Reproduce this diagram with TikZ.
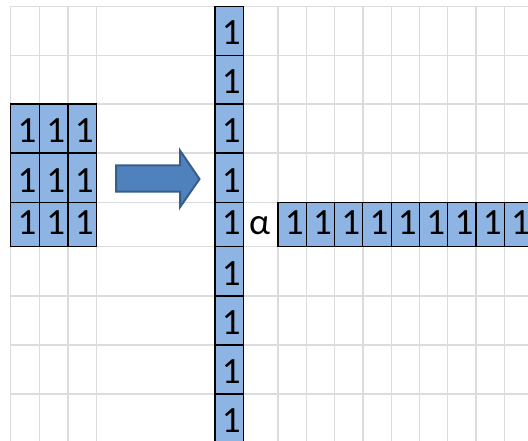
\documentclass[tikz,border=0pt]{standalone}
\usepackage{fontspec}
\setmainfont{Carlito}
\definecolor{gridc}{RGB}{218,220,221}
\definecolor{cellblue}{RGB}{141,180,226}
\definecolor{arrowfill}{RGB}{79,129,189}
\definecolor{arrowedge}{RGB}{56,93,138}
\begin{document}
\begin{tikzpicture}[x=1pt,y=-1pt,
  gridline/.style={draw=gridc,line width=1.3pt},
  cellbase/.style={draw=black,line width=1.2pt,fill=cellblue,inner sep=0pt,
    minimum width=28.4pt,font=\fontsize{37}{37}\selectfont},
  cell/.style={cellbase,minimum height=49pt,text height=28.4pt,text depth=0pt},
  cellshort/.style={cellbase,minimum height=44pt,text height=23.4pt,text depth=4pt},
  alphalabel/.style={inner sep=0pt,font=\fontsize{37}{37}\selectfont,text height=23.4pt,text depth=4pt},
  blockarrow/.style={fill=arrowfill,draw=arrowedge,line width=2pt,line join=miter}
]
\useasboundingbox (0,0) rectangle (528,441);
\clip (0,0) rectangle (528,441);
% grid
\foreach \gx in {10.7,39.3,68,96.3,215,243.3,278,306.3,334.6,362.9,391.2,419.5,447.8,476.1,504.4}
  \draw[gridline] (\gx,6.3) -- (\gx,441);
\foreach \gy in {6.3,55.3,104,153,202.7,246.7,296,345,394}
  \draw[gridline] (10.7,\gy) -- (528,\gy);
% left 3x3 block
\node[cell] (b11) at (25,128.5) {\hspace{4pt}1};
\node[cell] (b12) at (53.65,128.5) {\hspace{4pt}1};
\node[cell] (b13) at (82.15,128.5) {\hspace{4pt}1};
\node[cell] (b21) at (25,177.85) {\hspace{4pt}1};
\node[cell] (b22) at (53.65,177.85) {\hspace{4pt}1};
\node[cell] (b23) at (82.15,177.85) {\hspace{4pt}1};
\node[cellshort] (b31) at (25,224.7) {\hspace{4pt}1};
\node[cellshort] (b32) at (53.65,224.7) {\hspace{4pt}1};
\node[cellshort] (b33) at (82.15,224.7) {\hspace{4pt}1};
% arrow
\draw[blockarrow] (116,165.3) -- (180,165.3) -- (180,150.5) -- (199.5,179)
  -- (180,207.2) -- (180,191.7) -- (116,191.7) -- cycle;
% vertical column
\node[cell] (v1) at (229.15,30.8) {\hspace{4pt}1};
\node[cell] (v2) at (229.15,79.65) {\hspace{4pt}1};
\node[cell] (v3) at (229.15,128.5) {\hspace{4pt}1};
\node[cell] (v4) at (229.15,177.85) {\hspace{4pt}1};
\node[cellshort] (v5) at (229.15,224.7) {\hspace{4pt}1};
\node[cell] (v6) at (229.15,271.35) {\hspace{4pt}1};
\node[cell] (v7) at (229.15,320.5) {\hspace{4pt}1};
\node[cell] (v8) at (229.15,369.5) {\hspace{4pt}1};
\node[cell] (v9) at (229.15,418.5) {\hspace{4pt}1};
% alpha
\node[alphalabel] (alpha) at (259.5,224.7) {α};
% horizontal row
\foreach \i in {0,...,8}
  \node[cellshort] (h\i) at ({292.15+28.3*\i},224.7) {\hspace{4pt}1};
\end{tikzpicture}
\end{document}
